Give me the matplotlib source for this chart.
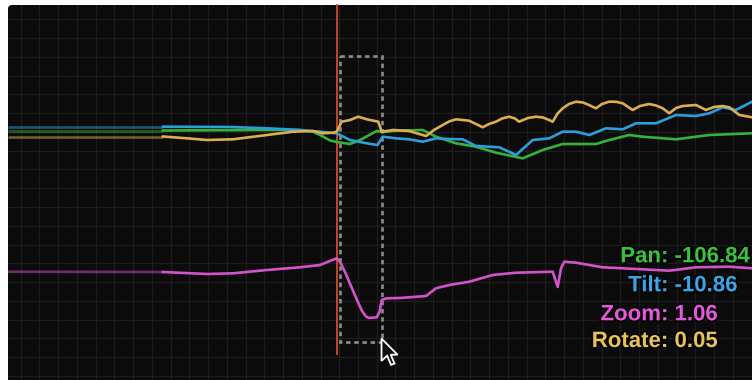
import numpy as np
import matplotlib
matplotlib.use("Agg")
import matplotlib.pyplot as plt
from matplotlib.patches import FancyBboxPatch, Rectangle, Polygon
import matplotlib.patheffects as pe

# ---------------- data (time -> value) ----------------
pan_t = [8, 163, 267, 300, 313, 322, 330, 336.7, 350, 360, 376.7, 382, 396, 422.7, 436,
         456, 476, 496, 522.7, 542.7, 562.7, 596, 609.3, 629.3, 642.7, 676, 709.3, 752]
pan_v = [130.5, 130.5, 130, 130, 131.7, 136, 140.5, 142, 144, 140, 131, 132, 130.7, 130,
         136.7, 143.3, 146.7, 152.7, 158.3, 150, 144, 144, 140, 135, 136.7, 139.3, 135, 133.3]

tilt_t = [8, 163, 230, 267, 300, 320, 336.7, 350, 366.7, 377.5, 382.7, 396, 409, 422.7,
          436, 449, 462.7, 476, 499.3, 516, 532.7, 549.3, 562.7, 576, 589.3, 606, 622.7,
          636, 656, 676, 696, 709.3, 722.7, 736, 752]
tilt_v = [126.7, 126.7, 127, 128.3, 130, 131.7, 133.3, 140, 143.3, 145, 136.7, 138.3, 139.3,
          141.7, 138.3, 139, 139.3, 146, 147.3, 155, 140, 138.3, 131.7, 131.7, 135, 128.3,
          129.3, 123.3, 123.3, 115, 116, 113.3, 107.3, 110, 101.7]

rot_t = [8, 163, 187, 207, 233, 267, 293, 313, 323, 333, 336.7, 341.7, 350, 358.3, 366.7,
         378.3, 381.7, 393.3, 409, 426, 434, 442.7, 449, 456, 469, 476, 482.7, 489, 496,
         502, 509, 515, 519, 528, 536, 543, 549, 552.7, 557.7, 562.7, 569, 576, 583, 589,
         596, 602, 609, 616, 622.7, 632.7, 640, 649, 656, 662.7, 669.3, 676, 682.7, 696,
         706, 714, 722.7, 729.3, 739.3, 752]
rot_v = [136.5, 136.5, 138.3, 140, 139.3, 135, 131.7, 131, 133.3, 132.7, 131.7, 121.7, 120,
         116.7, 119.3, 121.7, 131.7, 130, 131, 136, 130, 125, 121.5, 119.3, 120.7, 124,
         127.3, 124, 121.7, 118.5, 116.7, 118.5, 121.7, 118, 116.7, 117.5, 120, 121.7, 113.3,
         108.3, 104, 101.7, 102.5, 105, 108.3, 104, 101.7, 101.8, 103.3, 110, 106, 104,
         105.5, 108.3, 113.3, 108, 106, 105, 110, 107, 106, 107.3, 115, 117.3]

zoom_t = [8, 163, 207, 233, 267, 300, 320, 336.7, 340, 345, 351, 357, 362, 366, 369, 376.7,
          379.5, 381.7, 386.7, 400, 426, 436, 449.3, 469.3, 492.7, 516, 552.7, 557.7, 561,
          564.3, 576, 602.7, 642.7, 669.3, 696, 729.3, 752]
zoom_v = [271.7, 272, 274, 273.3, 270, 267.3, 265, 258.3, 262, 272, 286, 300, 311, 316.5,
          318, 317.3, 312, 300, 298.3, 298, 296, 288.3, 285, 281.7, 275, 272.7, 271.7, 287,
          268.3, 261.7, 262.7, 267.3, 269.3, 270.7, 267.3, 266.7, 268.3]

series_names = ["Pan", "Tilt", "Zoom", "Rotate"]
readouts = ["-106.84", "-10.86", "1.06", "0.05"]

playhead_t = 336.7
selection = (339.5, 55.5, 382.0, 342.0)  # t0, top, t1, bottom
history_end = 163

# ---------------- styling ----------------
line_col = {"Pan": "#34b23a", "Tilt": "#2b9fdc", "Zoom": "#d452cc", "Rotate": "#dcae52"}
text_col = {"Pan": "#36c43c", "Tilt": "#38a6ea", "Zoom": "#e659dc", "Rotate": "#eac257"}

fig = plt.figure(figsize=(7.52, 3.80), dpi=100, facecolor="white")
ax = fig.add_axes([0, 0, 1, 1])
ax.set_xlim(0, 752)
ax.set_ylim(380, 0)
ax.set_facecolor("white")
for s in ax.spines.values():
    s.set_visible(False)
ax.tick_params(length=0, labelbottom=False, labelleft=False)

panel = FancyBboxPatch((8, 5), 800, 420, boxstyle="round,pad=0,rounding_size=4",
                       facecolor="#0b0b0b", edgecolor="none", zorder=0)
ax.add_patch(panel)

ax.set_xticks(np.arange(20.7, 760, 18.74))
ax.set_yticks(np.arange(19.3, 385, 18.77))
ax.grid(True, color="#1d1d1d", linewidth=0.9)
ax.set_axisbelow(True)
for gl in ax.get_xgridlines() + ax.get_ygridlines():
    gl.set_clip_path(panel)
    gl.set_zorder(0.5)

# selection rectangle
t0, top, t1, bot = selection
ax.add_patch(Rectangle((t0, top), t1 - t0, bot - top, fill=False, edgecolor="#8c8c8c",
                       linewidth=1.9, linestyle=(0, (1.7, 1.4)), zorder=1))

# playhead
ax.plot([playhead_t, playhead_t], [5, 354], color="#cf4f1e", linewidth=1.3, zorder=1.5)

lw = 1.9
data = {"Pan": (pan_t, pan_v), "Tilt": (tilt_t, tilt_v), "Rotate": (rot_t, rot_v),
        "Zoom": (zoom_t, zoom_v)}
for z, name in enumerate(["Pan", "Tilt", "Rotate", "Zoom"]):
    t, v = np.array(data[name][0]), np.array(data[name][1])
    m = t <= history_end
    ax.plot(t[m], v[m], color=line_col[name], alpha=0.5, linewidth=lw,
            solid_capstyle="butt", zorder=2 + z * 0.1)
    m2 = t >= history_end
    ax.plot(t[m2], v[m2], color=line_col[name], linewidth=lw,
            solid_joinstyle="round", zorder=2 + z * 0.1)

# readouts
baselines = [262.3, 291.3, 320.3, 347.0]
for name, val, yb in zip(series_names, readouts, baselines):
    kw = dict(color=text_col[name], fontsize=16, fontweight="bold",
              family=["Liberation Sans", "DejaVu Sans"], va="baseline", zorder=5,
              path_effects=[pe.withStroke(linewidth=3, foreground="#050505")])
    ax.text(668.5, yb, name + ":", ha="right", **kw)
    ax.text(674.5, yb, val, ha="left", **kw)

# mouse cursor
tip = np.array([381.5, 338.5])
shape = np.array([[0, 0], [0, 22.4], [5.6, 17.2], [9.6, 26.4], [13.0, 25.0],
                  [9.2, 16.2], [16.0, 16.2]])
ax.add_patch(Polygon(tip + shape, closed=True, facecolor="#111111", edgecolor="white",
                     linewidth=1.3, joinstyle="miter", zorder=6))

fig.savefig("out.png", dpi=100, facecolor="white")
